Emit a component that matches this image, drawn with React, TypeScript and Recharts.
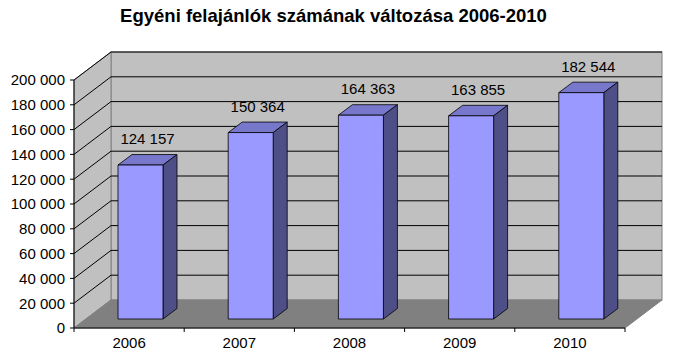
import { BarChart, Bar, XAxis, YAxis, ReferenceArea, ReferenceLine, LabelList } from 'recharts';

const years = ['2006', '2007', '2008', '2009', '2010'];
const offerers = [124157, 150364, 164363, 163855, 182544];
const yTicks = [0, 20000, 40000, 60000, 80000, 100000, 120000, 140000, 160000, 180000, 200000];

const data = years.map((year, i) => ({ year, value: offerers[i] }));

// perspective offsets (px) of the back wall and of the bars
const WALL_DX = 37;
const WALL_DY = -28;
const BAR_DX = 11;
const BAR_DY = -9;
const BOX_DX = 14;
const BOX_DY = -10.5;

const FONT = 'Arial, "Liberation Sans", sans-serif';

const fmt = (v: number) => String(v).replace(/\B(?=(\d{3})+(?!\d))/g, ' ');

function Walls(props: any) {
  const { x, y, width: w, height: h } = props;
  const b = y + h;
  return (
    <g>
      <rect x={x + WALL_DX} y={y + WALL_DY} width={w} height={h} fill="#c0c0c0" stroke="#808080" />
      <polygon
        points={`${x},${b} ${x},${y} ${x + WALL_DX},${y + WALL_DY} ${x + WALL_DX},${b + WALL_DY}`}
        fill="#c0c0c0"
        stroke="#808080"
      />
      <polygon
        points={`${x},${b} ${x + w},${b} ${x + w + WALL_DX},${b + WALL_DY} ${x + WALL_DX},${b + WALL_DY}`}
        fill="#808080"
        stroke="#808080"
      />
    </g>
  );
}

function GridLine(props: any) {
  const { x1, y1, x2 } = props;
  return (
    <g>
      <line x1={x1} y1={y1} x2={x1 + WALL_DX} y2={y1 + WALL_DY} stroke="#000" />
      <line x1={x1 + WALL_DX} y1={y1 + WALL_DY} x2={x2 + WALL_DX} y2={y1 + WALL_DY} stroke="#000" />
    </g>
  );
}

function Box(props: any) {
  const { x, y, width, height } = props;
  const fx = x + BAR_DX;
  const fy = y + BAR_DY;
  const r = fx + width;
  const bot = fy + height;
  return (
    <g stroke="#000" strokeWidth={0.8} strokeLinejoin="round">
      <polygon
        points={`${fx},${fy} ${fx + BOX_DX},${fy + BOX_DY} ${r + BOX_DX},${fy + BOX_DY} ${r},${fy}`}
        fill="#7777cc"
      />
      <polygon
        points={`${r},${fy} ${r + BOX_DX},${fy + BOX_DY} ${r + BOX_DX},${bot + BOX_DY} ${r},${bot}`}
        fill="#4f4f88"
      />
      <rect x={fx} y={fy} width={width} height={height} fill="#9999ff" />
    </g>
  );
}

function ValueLabel(props: any) {
  const { x, y, width, value } = props;
  return (
    <text
      x={x + width / 2 + BAR_DX + BOX_DX / 2}
      y={y - 30}
      textAnchor="middle"
      fontSize={15}
      fontFamily={FONT}
      fill="#000"
    >
      {fmt(value)}
    </text>
  );
}

function YearTick(props: any) {
  const { x, y, payload, index } = props;
  const half = payload && payload.offset ? payload.offset : 55;
  const axisY = y - 9;
  return (
    <g>
      <line x1={x - half} y1={axisY} x2={x - half} y2={axisY + 4} stroke="#000" />
      {index === years.length - 1 && (
        <line x1={x + half} y1={axisY} x2={x + half} y2={axisY + 4} stroke="#000" />
      )}
      <text x={x} y={y} dy="0.71em" textAnchor="middle" fontSize={15} fontFamily={FONT} fill="#000">
        {payload.value}
      </text>
    </g>
  );
}

export default function App() {
  return (
    <div style={{ position: 'absolute', left: 0, top: 0, width: 680, height: 358, background: '#fff' }}>
      <div
        style={{
          position: 'absolute',
          left: 0,
          top: 5,
          width: 667,
          textAlign: 'center',
          fontFamily: FONT,
          fontWeight: 'bold',
          fontSize: 18.5,
          lineHeight: '22px',
        }}
      >
        Egyéni felajánlók számának változása 2006-2010
      </div>
      <BarChart width={680} height={358} data={data} margin={{ top: 80, right: 55, left: 0, bottom: 0 }}>
        <ReferenceArea y1={0} y2={200000} shape={Walls} ifOverflow="visible" zIndex={-200} />
        {yTicks.slice(1).map((t) => (
          <ReferenceLine key={t} y={t} shape={GridLine} ifOverflow="visible" zIndex={-150} />
        ))}
        <XAxis
          dataKey="year"
          height={30}
          tickLine={false}
          tickSize={4}
          tickMargin={5}
          axisLine={{ stroke: '#000' }}
          tick={YearTick}
        />
        <YAxis
          width={74}
          domain={[0, 200000]}
          ticks={yTicks}
          tickFormatter={fmt}
          tickSize={4}
          tickMargin={5}
          axisLine={{ stroke: '#000' }}
          tickLine={{ stroke: '#000' }}
          tick={{ fill: '#000', fontSize: 15, fontFamily: FONT }}
        />
        <Bar dataKey="value" barSize={45} shape={Box} isAnimationActive={false}>
          <LabelList dataKey="value" content={ValueLabel} />
        </Bar>
      </BarChart>
    </div>
  );
}
